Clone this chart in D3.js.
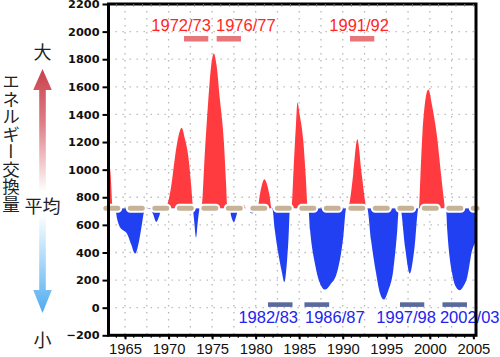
<!DOCTYPE html>
<html><head><meta charset="utf-8">
<script src="https://cdn.jsdelivr.net/npm/d3@7/dist/d3.min.js"></script>
<style>body{margin:0;background:#fff}svg{display:block}</style>
</head><body>
<svg id="c" width="500" height="357"></svg>
<script>
// ---- data ----
const years = [
 1963.1,1963.35,1963.6,
 1963.85,1964.1,1964.4,1964.8,1965.2,1965.7,1966.15,1966.6,1966.9,1967.2,1967.4,1967.9,1968.2,1968.6,1968.9,1969.2,1969.6,
 1970.3,1970.74,1971.2,1971.5,1971.85,1972.27,1972.6,1972.8,
 1972.95,1973.15,1973.35,1973.6,
 1973.75,1974.18,1974.56,1974.9,1975.2,1975.5,1975.9,1976.35,1976.6,1976.75,
 1977.0,1977.2,1977.5,1977.8,1978.05,
 1978.3,1978.6,1978.9,
 1979.2,1979.45,1979.7,1979.95,
 1980.2,1980.5,1981.0,1981.55,1981.85,
 1981.9,1982.2,1982.6,1983.0,1983.3,1983.55,1983.75,1983.95,
 1984.1,1984.35,1984.6,1984.8,1985.05,1985.46,1985.75,1986.0,
 1986.05,1986.25,1986.8,1987.3,1987.95,1988.6,1989.3,1990.06,1990.4,
 1990.6,1990.83,1991.21,1991.67,1992.17,1992.55,1992.7,
 1992.8,1993.25,1993.83,1994.25,1994.7,1995.2,1995.8,1996.26,1996.45,
 1996.6,1997.15,1997.7,1998.25,1998.7,
 1998.75,1998.9,1999.15,1999.82,2000.3,2000.78,2001.36,2001.62,2001.75,
 2001.85,2002.0,2002.56,2003.0,2003.44,2003.9,2004.3,2004.86,2005.3
];
const values = [
 1130,960,720,
 720,640,585,560,540,460,392,480,590,700,720,715,680,621,660,715,720,
 880,1093,1260,1303,1230,1093,880,720,
 620,508,620,720,
 720,1141,1504,1760,1842,1760,1504,1200,900,720,
 720,660,621,670,720,
 720,745,720,
 720,685,685,720,
 720,827,930,827,720,
 720,561,392,260,186,300,480,720,
 720,1000,1300,1487,1400,1214,950,720,
 720,561,320,190,131,170,247,513,720,
 720,779,972,1221,972,779,720,
 720,489,247,110,59,120,271,561,720,
 720,440,247,440,720,
 720,924,1262,1581,1450,1262,924,779,720,
 720,561,247,150,126,160,223,416,480
];
const meanValue = 720;
const yTicks = [-200,0,200,400,600,800,1000,1200,1400,1600,1800,2000,2200];
const xTicks = [1965,1970,1975,1980,1985,1990,1995,2000,2005];
const gridYears = [1965,1967.5,1970,1972.5,1975,1977.5,1980,1982.5,1985,1987.5,1990,1992.5,1995,1997.5,2000,2002.5];
const gridValues = [0,200,400,600,800,1000,1200,1400,1600,1800,2000];
const redEventLabels = ["1972/73","1976/77","1991/92"];
const redEventStart = [1971.77,1975.52,1990.83];
const redEventEnd = [1974.56,1978.31,1993.62];
const blueEventLabels = ["1982/83","1986/87","1997/98","2002/03"];
const blueEventStart = [1981.41,1985.6,1996.57,2001.45];
const blueEventEnd = [1984.23,1988.44,1999.36,2004.26];
const sideTitle = "エネルギー交換量";
const sideLabels = ["大","平均","小"];

// ---- layout ----
const redLabelDx = [-15,17,-3];
const blueLabelDx = [-12,18,-6,15];
const RED = "#ff3b3f", BLUE = "#2040f2", TAN = "#c6b396";

const svg = d3.select("#c");
const x = d3.scaleLinear().domain([1963.1, 2005.3]).range([108.5, 476]);
const y = d3.scaleLinear().domain([-200, 2200]).range([335.3, 4]);
const L = x.range()[0], R = x.range()[1], T = y.range()[1], B = y.range()[0];
const yMean = y(meanValue);

const defs = svg.append("defs");
defs.append("clipPath").attr("id","clipUp").append("rect")
  .attr("x",L).attr("y",T).attr("width",R-L).attr("height",yMean-T);
defs.append("clipPath").attr("id","clipDn").append("rect")
  .attr("x",L).attr("y",yMean).attr("width",R-L).attr("height",B-yMean);
const gUp = defs.append("linearGradient").attr("id","gUp").attr("x1",0).attr("y1",0).attr("x2",0).attr("y2",1);
gUp.append("stop").attr("offset","0%").attr("stop-color","#c9404a");
gUp.append("stop").attr("offset","45%").attr("stop-color","#df8088");
gUp.append("stop").attr("offset","100%").attr("stop-color","#ffffff");
const gDn = defs.append("linearGradient").attr("id","gDn").attr("x1",0).attr("y1",0).attr("x2",0).attr("y2",1);
gDn.append("stop").attr("offset","0%").attr("stop-color","#ffffff");
gDn.append("stop").attr("offset","55%").attr("stop-color","#9dd2f8");
gDn.append("stop").attr("offset","100%").attr("stop-color","#4fabef");

// grid
const grid = svg.append("g").attr("stroke","#b8b8b8").attr("stroke-width",1.3).attr("stroke-dasharray","1.4,5.6");
grid.selectAll("line.v").data(gridYears).join("line").attr("class","v")
  .attr("x1",d=>x(d)).attr("x2",d=>x(d)).attr("y1",T).attr("y2",B);
grid.selectAll("line.h").data(gridValues).join("line").attr("class","h")
  .attr("x1",L).attr("x2",R).attr("y1",d=>y(d)).attr("y2",d=>y(d));

// areas
const series = years.map((t,i)=>({t, v: values[i]}));
const area = d3.area().x(d=>x(d.t)).y0(yMean).y1(d=>y(d.v)).curve(d3.curveMonotoneX);
svg.append("path").datum(series).attr("d",area).attr("fill",RED).attr("clip-path","url(#clipUp)");
svg.append("path").datum(series).attr("d",area).attr("fill",BLUE).attr("clip-path","url(#clipDn)");

// mean line
const meanLine = d3.line()([[105.8, yMean], [R+1, yMean]]);
svg.append("path").attr("d",meanLine).attr("fill","none").attr("stroke","#fff")
  .attr("stroke-width",9).attr("stroke-linecap","round").attr("stroke-dasharray","12,12.5");
svg.append("path").attr("d",meanLine).attr("fill","none").attr("stroke",TAN)
  .attr("stroke-width",5).attr("stroke-linecap","round").attr("stroke-dasharray","12,12.5");

// event bars + labels
const evFont = "'Liberation Sans', Arial, sans-serif";
redEventLabels.forEach((lab,i)=>{
  const x0 = x(redEventStart[i]), x1 = x(redEventEnd[i]);
  svg.append("rect").attr("x",x0).attr("y",36).attr("width",x1-x0).attr("height",5.5).attr("fill","#e8757a");
  svg.append("text").attr("x",(x0+x1)/2+redLabelDx[i]).attr("y",31).attr("text-anchor","middle")
    .attr("font-family",evFont).attr("font-size",16.5).attr("fill","#ff2626").text(lab);
});
blueEventLabels.forEach((lab,i)=>{
  const x0 = x(blueEventStart[i]), x1 = x(blueEventEnd[i]);
  svg.append("rect").attr("x",x0).attr("y",302.3).attr("width",x1-x0).attr("height",4.6).attr("fill","#5a6a9c");
  svg.append("text").attr("x",(x0+x1)/2+blueLabelDx[i]).attr("y",322.5).attr("text-anchor","middle")
    .attr("font-family",evFont).attr("font-size",16.5).attr("fill","#2323ee").text(lab);
});

// frame
svg.append("rect").attr("x",L).attr("y",T).attr("width",R-L).attr("height",B-T)
  .attr("fill","none").attr("stroke","#000").attr("stroke-width",3);

// minor year ticks
const minorYears = d3.range(1964, 2006);
svg.append("g").selectAll("line").data(minorYears).join("line")
  .attr("x1",d=>x(d)).attr("x2",d=>x(d)).attr("y1",B).attr("y2",B+2.5).attr("stroke","#000").attr("stroke-width",1.2);
svg.append("g").selectAll("line").data(minorYears).join("line")
  .attr("x1",d=>x(d)).attr("x2",d=>x(d)).attr("y1",T).attr("y2",T+2.5).attr("stroke","#777").attr("stroke-width",1);

// y axis
const ya = svg.append("g").attr("transform",`translate(${L},0)`)
  .call(d3.axisLeft(y).tickValues(yTicks).tickFormat(d3.format("d")).tickSize(6).tickPadding(3));
ya.select(".domain").remove();
ya.selectAll("line").attr("stroke","#000").attr("stroke-width",2);
ya.selectAll("text").attr("font-family","'DejaVu Sans', sans-serif").attr("font-weight","bold")
  .attr("font-size",11.3).attr("fill","#111");

// x axis
const xa = svg.append("g").attr("transform",`translate(0,${B})`)
  .call(d3.axisBottom(x).tickValues(xTicks).tickFormat(d3.format("d")).tickSize(4).tickPadding(4.6));
xa.select(".domain").remove();
xa.selectAll("line").attr("stroke","#000").attr("stroke-width",2);
xa.selectAll("text").attr("font-family","'Liberation Sans', Arial, sans-serif")
  .attr("font-size",14.8).attr("fill","#111");

// left side: title and arrows
svg.append("text").attr("x",11).attr("y",73)
  .attr("style","writing-mode: vertical-rl; text-orientation: mixed")
  .attr("font-family","'Noto Sans CJK JP', sans-serif").attr("font-size",17.5).attr("fill","#222")
  .text(sideTitle);

const ax = 42.5;
svg.append("path").attr("fill","url(#gUp)")
  .attr("d",`M${ax},69 L${ax+9.3},90 L${ax+3.3},90 L${ax+3.3},192 L${ax-3.3},192 L${ax-3.3},90 L${ax-9.3},90 Z`);
svg.append("path").attr("fill","url(#gDn)")
  .attr("d",`M${ax-3.3},214 L${ax+3.3},214 L${ax+3.3},290 L${ax+9.3},290 L${ax},313 L${ax-9.3},290 L${ax-3.3},290 Z`);

const sideY = [53, 207, 341];
sideLabels.forEach((s,i)=>{
  svg.append("text").attr("x",ax).attr("y",sideY[i]).attr("dy","0.36em").attr("text-anchor","middle")
    .attr("font-family","'Noto Sans CJK JP', sans-serif").attr("font-size",18).attr("fill","#222").text(s);
});
</script>
</body></html>
